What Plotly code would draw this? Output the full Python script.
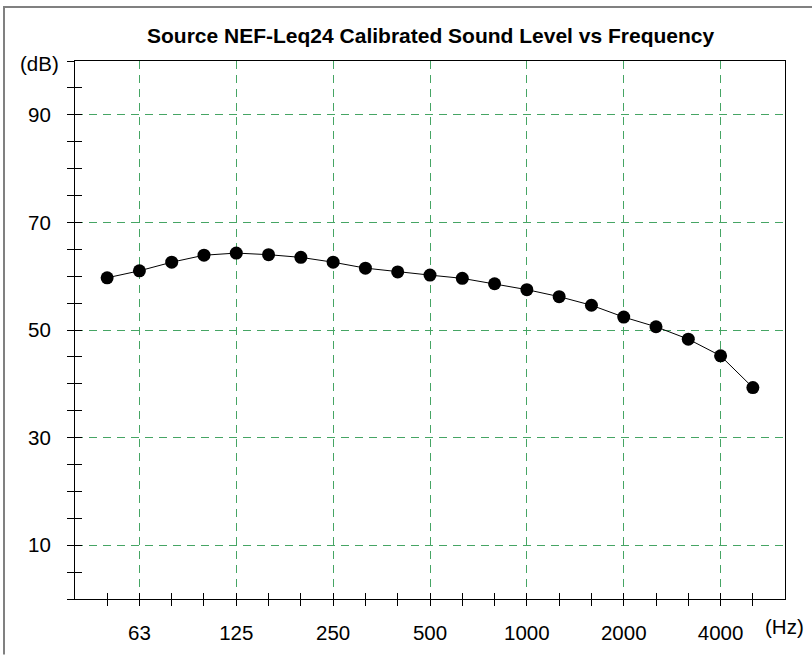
import plotly.graph_objects as go

# ---- data ----
freq_bands = ["50", "63", "80", "100", "125", "160", "200", "250", "315", "400", "500",
              "630", "800", "1000", "1250", "1600", "2000", "2500", "3150", "4000", "5000"]
levels_db = [59.7, 61.0, 62.6, 63.9, 64.3, 64.0, 63.5, 62.6, 61.5, 60.8, 60.2,
             59.6, 58.6, 57.5, 56.2, 54.6, 52.4, 50.6, 48.3, 45.2, 39.3]
x_labels = ["63", "125", "250", "500", "1000", "2000", "4000"]
y_labels = [10, 30, 50, 70, 90]

title_text = "Source NEF-Leq24 Calibrated Sound Level vs Frequency"

# ---- layout constants ----
W, H = 812, 656
ML, MR, MT, MB = 75, 27, 61, 51
PW, PH = W - ML - MR, H - MT - MB

x_idx = list(range(len(freq_bands)))
x_tickvals = [freq_bands.index(s) for s in x_labels]
xr = [-0.995, len(freq_bands) - 1 + 0.995]
yr = [0, 100]

FONT = "Liberation Sans, Arial, Helvetica, sans-serif"
GRID = "rgb(70,165,100)"
FS = 20.5

fig = go.Figure()
fig.add_trace(go.Scatter(
    x=x_idx, y=levels_db, mode="lines+markers",
    line=dict(color="black", width=1),
    marker=dict(color="black", size=13),
    hoverinfo="skip", showlegend=False,
))
# invisible trace to carry overlay axes (inside half of crossing ticks)
fig.add_trace(go.Scatter(x=[x_idx[0]], y=[levels_db[0]], xaxis="x2", yaxis="y2",
                         mode="markers", marker=dict(opacity=0), hoverinfo="skip",
                         showlegend=False))

def px_to_paper_x(px):
    return (px - ML) / PW

def px_to_paper_y(py):
    return (H - MB - py) / PH

fig.update_layout(
    width=W, height=H,
    margin=dict(l=ML, r=MR, t=MT, b=MB, pad=0),
    paper_bgcolor="white", plot_bgcolor="white",
    font=dict(family=FONT, size=FS, color="black"),
    showlegend=False,
    xaxis=dict(
        range=xr, tickmode="array", tickvals=x_tickvals, ticktext=x_labels,
        ticks="outside", ticklen=6, tickwidth=1, tickcolor="black",
        ticklabelstandoff=9,
        showline=True, linecolor="black", linewidth=1, mirror=True,
        showgrid=True, gridcolor=GRID, gridwidth=1, griddash="8px,6px",
        zeroline=False,
        minor=dict(tick0=0, dtick=1, ticks="outside", ticklen=6, tickwidth=1,
                   tickcolor="black", showgrid=False),
        tickfont=dict(size=FS, family=FONT),
    ),
    yaxis=dict(
        range=yr, tickmode="array", tickvals=y_labels,
        ticks="outside", ticklen=7, tickwidth=1, tickcolor="black",
        ticklabelstandoff=12,
        showline=True, linecolor="black", linewidth=1, mirror=True,
        showgrid=True, gridcolor=GRID, gridwidth=1, griddash="8px,6px",
        zeroline=False,
        minor=dict(tick0=0, dtick=5, ticks="outside", ticklen=7, tickwidth=1,
                   tickcolor="black", showgrid=False),
        tickfont=dict(size=FS, family=FONT),
    ),
    xaxis2=dict(
        overlaying="x", anchor="y2", range=xr, tickmode="array", tickvals=x_tickvals,
        showticklabels=False, ticks="inside", ticklen=6, tickwidth=1, tickcolor="black",
        showline=False, showgrid=False, zeroline=False,
        minor=dict(tick0=0, dtick=1, ticks="inside", ticklen=6, tickwidth=1,
                   tickcolor="black", showgrid=False),
    ),
    yaxis2=dict(
        overlaying="y", anchor="x2", range=yr, tickmode="array", tickvals=y_labels,
        showticklabels=False, ticks="inside", ticklen=7, tickwidth=1, tickcolor="black",
        showline=False, showgrid=False, zeroline=False,
        minor=dict(tick0=0, dtick=5, ticks="inside", ticklen=7, tickwidth=1,
                   tickcolor="black", showgrid=False),
    ),
)

fig.add_annotation(text="<b>" + title_text + "</b>", xref="paper", yref="paper",
                   x=0.5, y=px_to_paper_y(35), xanchor="center", yanchor="middle",
                   showarrow=False, font=dict(size=21, family=FONT))
fig.add_annotation(text="(dB)", xref="paper", yref="paper",
                   x=px_to_paper_x(39), y=px_to_paper_y(64), xanchor="center", yanchor="middle",
                   showarrow=False, font=dict(size=FS, family=FONT))
fig.add_annotation(text="(Hz)", xref="paper", yref="paper",
                   x=px_to_paper_x(784), y=px_to_paper_y(633), xanchor="center", yanchor="middle",
                   showarrow=False, font=dict(size=FS, family=FONT))

# outer gray frame (top and left edges visible)
fig.add_shape(type="line", xref="paper", yref="paper",
              x0=px_to_paper_x(4), x1=px_to_paper_x(W + 5),
              y0=px_to_paper_y(6.5), y1=px_to_paper_y(6.5),
              line=dict(color="rgb(128,128,128)", width=2))
fig.add_shape(type="line", xref="paper", yref="paper",
              x0=px_to_paper_x(4), x1=px_to_paper_x(4),
              y0=px_to_paper_y(5.5), y1=px_to_paper_y(H + 5),
              line=dict(color="rgb(128,128,128)", width=2))

fig.write_html("out.html",
               config={"displayModeBar": False, "staticPlot": True},
               post_script="document.body.style.margin='0';"
                           "document.body.style.padding='0';"
                           "document.body.style.overflow='hidden';")
